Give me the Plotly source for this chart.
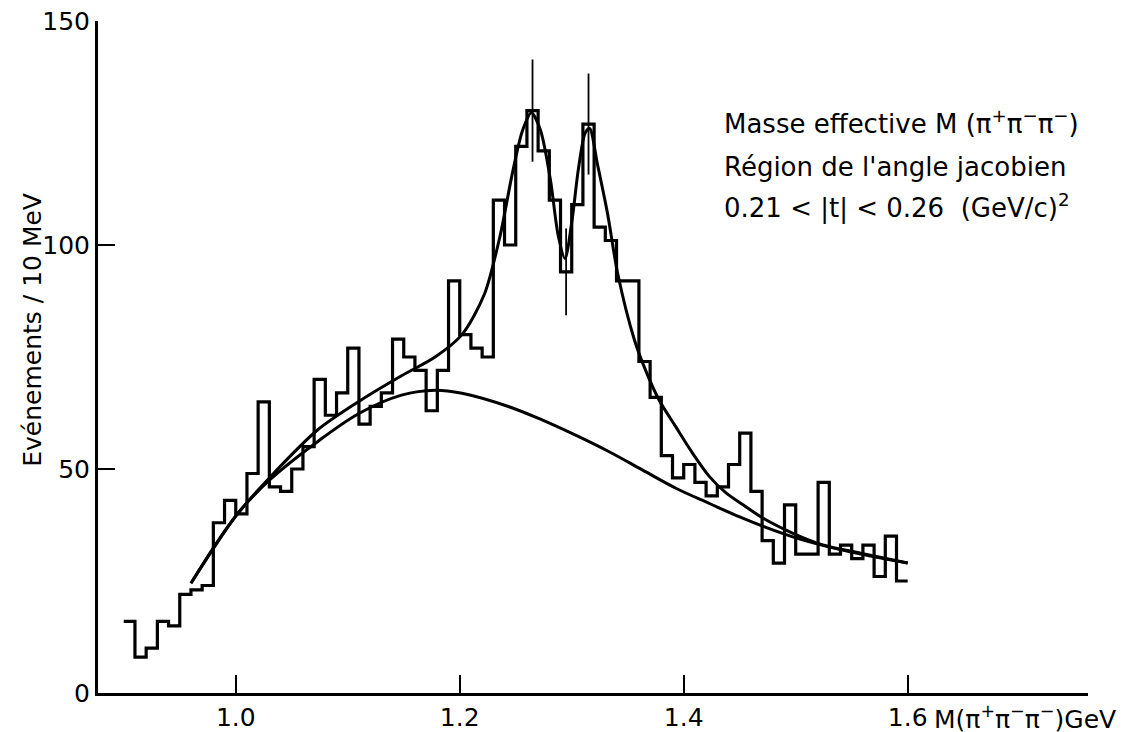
import numpy as np
import plotly.graph_objects as go

# ---- data ----
bin_start = 0.90
bin_width = 0.01
counts = [16, 8, 10, 16, 15, 22, 23, 24, 38, 43,
          40, 49, 65, 46, 45, 50, 55, 70, 62, 67,
          77, 60, 64, 67, 79, 75, 72, 63, 72, 92,
          80, 77, 75, 110, 100, 122, 130, 121, 110, 94,
          109, 127, 104, 101, 92, 92, 74, 66, 53, 48,
          51, 47, 44, 46, 51, 58, 45, 34, 29, 42,
          31, 31, 47, 31, 33, 30, 33, 26, 35, 25]

# bins carrying statistical error bars (bin left edges)
err_bins = [1.26, 1.29, 1.31]

# fitted total curve (resonances + background)
fit_x = [0.96, 1.00, 1.03, 1.073, 1.112, 1.148, 1.178, 1.202, 1.222,
         1.236, 1.247, 1.256, 1.264, 1.272, 1.281, 1.288, 1.294, 1.300, 1.306,
         1.312, 1.316, 1.323, 1.332, 1.341, 1.356, 1.366, 1.378, 1.393, 1.408,
         1.423, 1.438, 1.453, 1.471, 1.498, 1.525, 1.558, 1.60]
fit_y = [24.5, 39.5, 48.0, 58.7, 65.4, 70.8, 75.0, 80.0, 89.0,
         102.0, 116.0, 125.5, 129.5, 125.7, 114.5, 102.0, 97.0, 105.0, 117.0,
         125.0, 126.0, 118.0, 107.0, 93.7, 78.8, 72.0, 65.4, 59.4, 53.5,
         48.3, 44.6, 42.0, 39.0, 35.6, 33.0, 31.2, 29.0]

# background curve
bg_x = [0.96, 1.00, 1.03, 1.073, 1.11, 1.148, 1.178, 1.202, 1.244, 1.274,
        1.303, 1.333, 1.363, 1.393, 1.423, 1.45, 1.474, 1.498, 1.525, 1.558, 1.60]
bg_y = [24.5, 39.5, 47.5, 56.1, 62.4, 66.5, 67.6, 66.9, 63.9, 60.9,
        57.6, 53.9, 49.8, 45.7, 42.3, 39.3, 36.9, 34.8, 32.9, 31.0, 29.0]

x_tickvals = [1.0, 1.2, 1.4, 1.6]
x_ticktext = ["1.0", "1.2", "1.4", "1.6"]
y_tickvals = [0, 50, 100, 150]
y_ticktext = ["0", "50", "100", "150"]

# ---- figure ----
n = len(counts)
edges = [round(bin_start + i * bin_width, 4) for i in range(n + 1)]
step_x = edges
step_y = counts + [counts[-1]]

FONT = "DejaVu Sans, Liberation Sans, Arial, sans-serif"

fig = go.Figure()
fig.add_trace(go.Scatter(x=step_x, y=step_y, mode="lines", line_shape="hv",
                         line=dict(color="black", width=3.2), hoverinfo="skip",
                         showlegend=False))
fig.add_trace(go.Scatter(x=bg_x, y=bg_y, mode="lines", line_shape="spline",
                         line=dict(color="black", width=3, smoothing=1.0),
                         showlegend=False))
fig.add_trace(go.Scatter(x=fit_x, y=fit_y, mode="lines", line_shape="spline",
                         line=dict(color="black", width=3, smoothing=0.8),
                         showlegend=False))

ex, ey, ee = [], [], []
for b in err_bins:
    i = int(round((b - bin_start) / bin_width))
    ex.append(b + bin_width / 2)
    ey.append(counts[i])
    ee.append(float(np.sqrt(counts[i])))
fig.add_trace(go.Scatter(x=ex, y=ey, mode="markers",
                         marker=dict(size=1, color="rgba(0,0,0,0)"),
                         error_y=dict(type="data", array=ee, visible=True,
                                      width=0, thickness=1.8, color="black"),
                         showlegend=False))

# the page body adds an 8px offset; margins compensate for it
fig.update_layout(
    width=1127, height=732,
    margin=dict(l=90, r=47, t=13, b=47),
    plot_bgcolor="white", paper_bgcolor="white",
    font=dict(family=FONT, size=25, color="black"),
    xaxis=dict(range=[0.877, 1.761], showgrid=False, zeroline=False,
               automargin=False, ticklabeloverflow="allow",
               showline=True, linecolor="black", linewidth=3,
               ticks="inside", ticklen=18, tickwidth=2, tickcolor="black",
               tickvals=x_tickvals, ticktext=x_ticktext,
               tickfont=dict(size=25)),
    yaxis=dict(range=[0, 150], showgrid=False, zeroline=False,
               automargin=False, ticklabeloverflow="allow",
               showline=True, linecolor="black", linewidth=3,
               ticks="inside", ticklen=17, tickwidth=2, tickcolor="black",
               tickvals=y_tickvals, ticktext=y_ticktext,
               tickfont=dict(size=25)),
)

# y axis title
fig.add_annotation(x=-0.067, y=0.54, xref="paper", yref="paper",
                   text="Evénements / 10 MeV", textangle=-90,
                   showarrow=False, xanchor="center", yanchor="middle",
                   font=dict(size=25))

# x axis title, following the last tick label
fig.add_annotation(x=1.622, y=-0.037, xref="x", yref="paper",
                   text="M(π<sup>+</sup>π<sup>−</sup>π<sup>−</sup>)GeV",
                   showarrow=False, xanchor="left", yanchor="middle",
                   font=dict(size=25))

info = ["Masse effective M (π<sup>+</sup>π<sup>−</sup>π<sup>−</sup>)",
        "Région de l'angle jacobien",
        "0.21 < |t| < 0.26  (GeV/c)<sup>2</sup>"]
for txt, yy in zip(info, [127.5, 117.4, 108.7]):
    fig.add_annotation(x=1.4345, y=yy, xref="x", yref="y", text=txt,
                       showarrow=False, xanchor="left", yanchor="middle",
                       font=dict(size=26))

fig.write_html("out.html")
